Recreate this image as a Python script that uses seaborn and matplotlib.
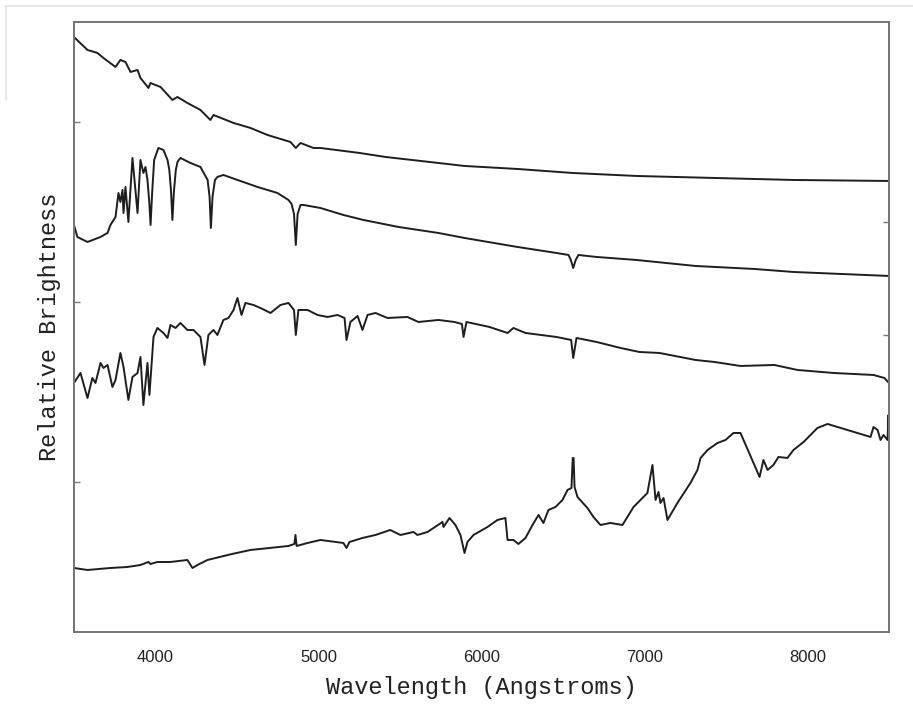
# Stellar spectra of four star types, stacked with offsets
# values (wavelength in Angstroms, brightness in arbitrary units)

import matplotlib
matplotlib.use("Agg")
import matplotlib.pyplot as plt
from matplotlib.lines import Line2D
import seaborn as sns

# hot blue star (top)
hot_wl = [3500, 3583, 3644, 3681, 3755, 3785, 3816, 3847, 3890, 3908, 3957, 3969,
          4031, 4104, 4135, 4196, 4276, 4337, 4356, 4479, 4583, 4687, 4828, 4861,
          4890, 4969, 5012, 5252, 5411, 5736, 5896, 6221, 6558, 6951, 7429, 7914, 8500]
hot_br = [595, 582, 579, 574, 565, 572, 570, 560, 562, 554, 544, 549,
          545, 532, 535, 529, 522, 512, 517, 509, 504, 497, 490, 484,
          489, 484, 484, 479, 475, 469, 466, 463, 459, 456, 454, 452, 451]

# A-type star with strong Balmer lines
a_wl = [3500, 3521, 3583, 3663, 3706, 3724, 3755, 3773, 3785, 3798, 3804, 3816,
        3834, 3859, 3890, 3908, 3926, 3939, 3951, 3962, 3970, 3980, 3992, 4018,
        4049, 4074, 4085, 4095, 4104, 4113, 4125, 4135, 4153, 4215, 4276, 4320,
        4332, 4340, 4350, 4365, 4380, 4417, 4503, 4626, 4748, 4816, 4835, 4850,
        4861, 4872, 4890, 4908, 5012, 5153, 5276, 5491, 5736, 5896, 6221, 6460,
        6534, 6548, 6563, 6578, 6595, 6706, 6951, 7313, 7675, 7914, 8500]
a_br = [407, 395, 390, 395, 399, 407, 415, 439, 430, 442, 419, 445,
        410, 474, 419, 472, 459, 465, 452, 430, 407, 440, 472, 484,
        482, 472, 462, 442, 412, 440, 462, 470, 474, 469, 465, 452,
        435, 404, 435, 452, 455, 457, 452, 445, 439, 432, 428, 418,
        387, 418, 427, 427, 424, 417, 412, 405, 399, 394, 385, 379,
        377, 372, 364, 372, 377, 375, 372, 366, 363, 360, 356]

# sun-like star
g_wl = [3500, 3540, 3583, 3613, 3632, 3663, 3681, 3706, 3736, 3755, 3785, 3804,
        3834, 3859, 3890, 3908, 3926, 3951, 3963, 3988, 4012, 4049, 4074, 4092,
        4123, 4153, 4196, 4233, 4276, 4301, 4325, 4356, 4380, 4417, 4448, 4479,
        4503, 4528, 4552, 4601, 4644, 4706, 4767, 4816, 4850, 4861, 4877, 4933,
        4994, 5055, 5117, 5160, 5172, 5196, 5240, 5270, 5301, 5350, 5423, 5546,
        5613, 5736, 5834, 5880, 5890, 5908, 6049, 6160, 6196, 6270, 6460, 6550,
        6563, 6583, 6706, 6853, 6969, 7092, 7313, 7429, 7589, 7797, 7939, 8160,
        8405, 8472, 8500]
g_br = [249, 259, 234, 254, 249, 269, 264, 267, 245, 252, 279, 265,
        232, 255, 259, 275, 227, 269, 237, 295, 304, 299, 294, 307,
        304, 309, 302, 302, 295, 267, 297, 302, 297, 312, 314, 322,
        334, 317, 329, 327, 324, 319, 327, 329, 322, 297, 322, 322,
        317, 315, 317, 314, 292, 310, 316, 302, 317, 319, 314, 315,
        310, 312, 310, 308, 295, 310, 305, 299, 304, 299, 295, 292,
        274, 294, 290, 284, 280, 279, 272, 270, 266, 267, 262, 259,
        257, 254, 249]

# cool red M star (bottom)
m_wl = [3500, 3583, 3724, 3828, 3908, 3957, 3969, 4012, 4092, 4196, 4227, 4258,
        4319, 4470, 4583, 4700, 4816, 4852, 4859, 4866, 4933, 5012, 5153, 5172,
        5190, 5270, 5350, 5440, 5503, 5583, 5607, 5669, 5761, 5767, 5804, 5840,
        5871, 5896, 5914, 5951, 6037, 6098, 6147, 6160, 6196, 6227, 6270, 6313,
        6350, 6380, 6411, 6454, 6497, 6528, 6552, 6560, 6565, 6571, 6589, 6650,
        6687, 6730, 6791, 6865, 6933, 7018, 7049, 7068, 7086, 7098, 7117, 7141,
        7202, 7282, 7325, 7344, 7387, 7448, 7497, 7546, 7589, 7706, 7730, 7755,
        7791, 7822, 7877, 7914, 7976, 8061, 8123, 8387, 8405, 8430, 8448, 8466,
        8491, 8497, 8500]
m_br = [64, 62, 64, 65, 67, 70, 68, 70, 70, 72, 64, 67,
        72, 78, 82, 84, 86, 88, 97, 86, 89, 92, 89, 84,
        90, 94, 97, 102, 97, 100, 97, 100, 110, 105, 114, 107,
        97, 79, 90, 97, 105, 112, 114, 92, 92, 88, 94, 107,
        117, 109, 122, 125, 132, 142, 144, 174, 174, 145, 135, 124,
        115, 107, 109, 107, 125, 139, 167, 132, 140, 129, 134, 112,
        129, 149, 162, 174, 182, 189, 192, 199, 199, 155, 172, 162,
        167, 175, 174, 182, 190, 204, 208, 195, 205, 202, 192, 197,
        192, 217, 202]

spectra = [(hot_wl, hot_br), (a_wl, a_br), (g_wl, g_br), (m_wl, m_br)]

sns.set_style("white")

fig = plt.figure(figsize=(9.13, 7.04), dpi=100)
ax = fig.add_axes([0.081, 0.1023, 0.8927, 0.8665])

for wl, br in spectra:
    sns.lineplot(x=wl, y=br, ax=ax, color="#1e1e1e", linewidth=1.4)

ax.set_xlim(3500, 8500)
ax.set_ylim(0, 610)
ax.set_xticks([4000, 5000, 6000, 7000, 8000])
ax.set_xticks([4500, 5500, 6500, 7500], minor=True)
ax.set_yticks([150, 330, 510])
ax.set_yticklabels([])
ax.tick_params(axis="x", which="major", direction="in", length=6, width=1,
               color="#777777", pad=13, labelsize=12, labelcolor="#222222")
ax.tick_params(axis="x", which="minor", direction="in", length=4, width=1,
               color="#777777")
ax.tick_params(axis="y", direction="in", length=4, width=1, color="#777777")
for lbl in ax.get_xticklabels():
    lbl.set_fontfamily("Liberation Sans")

# right side ticks sit at different heights
ax2 = ax.twinx()
ax2.set_ylim(ax.get_ylim())
ax2.set_yticks([297, 410])
ax2.set_yticklabels([])
ax2.tick_params(axis="y", direction="in", length=4, width=1, color="#777777")

for a in (ax, ax2):
    for s in a.spines.values():
        s.set_color("#777777")
        s.set_linewidth(1.4)

ax.set_xlabel("Wavelength (Angstroms)", fontfamily="Liberation Mono",
              fontsize=17, color="#222222", labelpad=8)
ax.set_ylabel("Relative Brightness", fontfamily="Liberation Mono",
              fontsize=17, color="#222222", labelpad=6)

# faint frame left over from the scan
fig.add_artist(Line2D([0.006, 1.0], [0.992, 0.992], color="#e2e2e2", lw=1.2))
fig.add_artist(Line2D([0.007, 0.007], [0.992, 0.858], color="#e2e2e2", lw=1.2))

fig.savefig("out.png", dpi=100)
